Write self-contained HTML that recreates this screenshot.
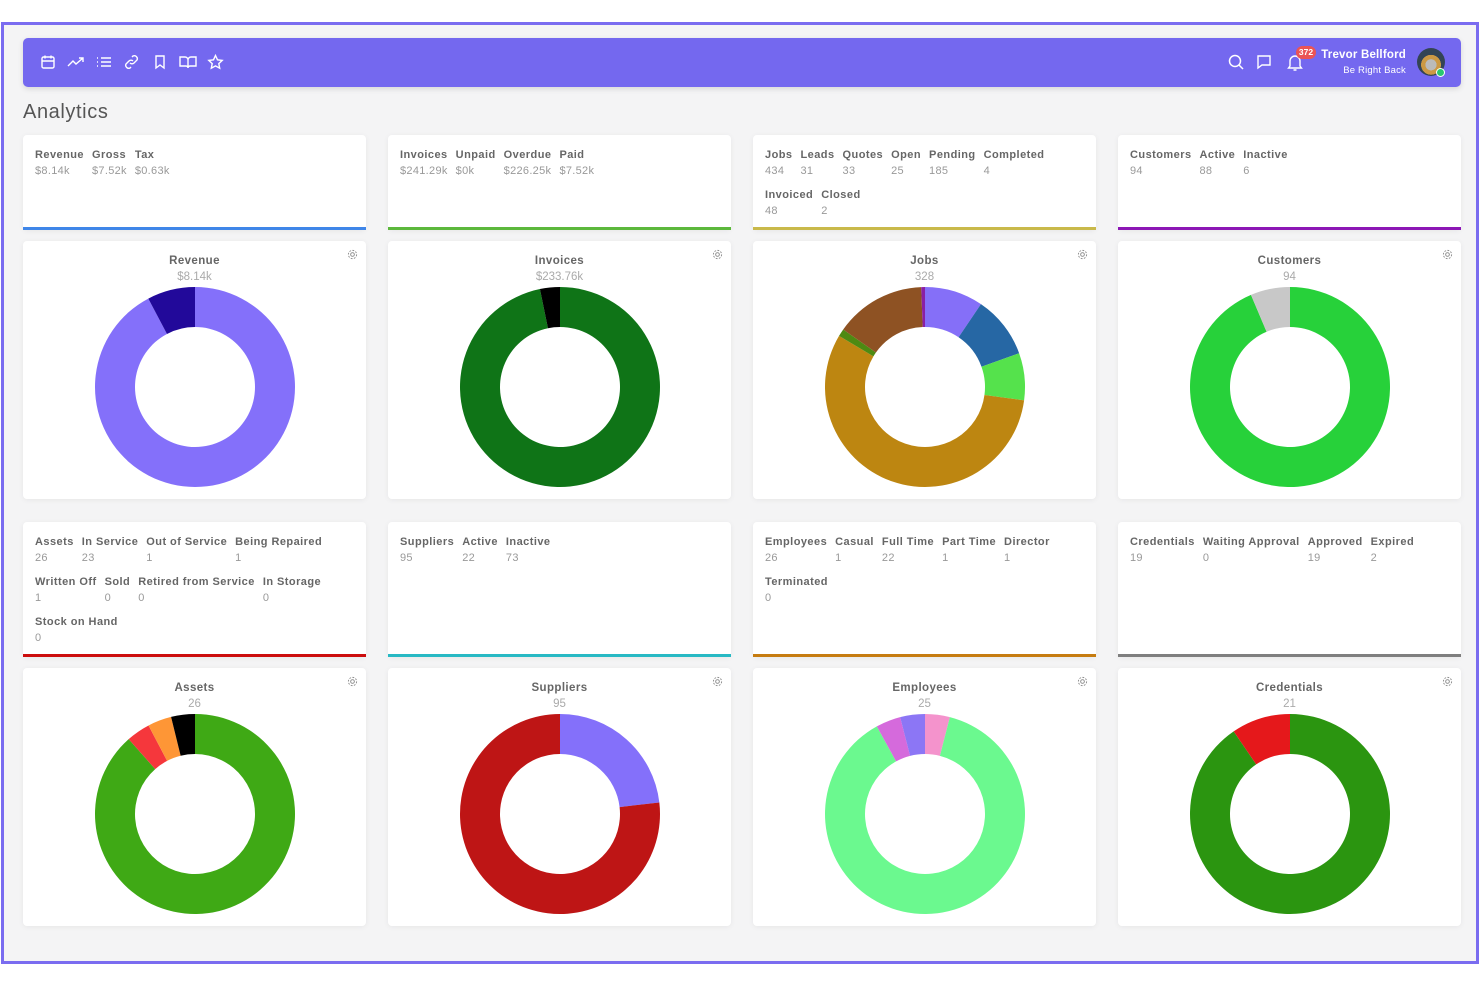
<!DOCTYPE html>
<html><head><meta charset="utf-8">
<style>
*{box-sizing:border-box;margin:0;padding:0}
body{width:1480px;height:987px;background:#fff;font-family:"Liberation Sans",sans-serif;position:relative;overflow:hidden}
#frame{position:absolute;left:1px;top:22px;width:1478px;height:942px;border:3px solid #7a6cf0;background:#f4f4f5}
#topbar{position:absolute;left:23px;top:38px;width:1438px;height:49px;background:#7468ef;border-radius:5px;box-shadow:0 2px 6px rgba(0,0,0,.12)}
.ico{position:absolute;top:16px}
h1{position:absolute;left:23px;top:101px;font-size:20px;font-weight:normal;color:#555;letter-spacing:.6px}
.card{position:absolute;background:#fff;border-radius:4px;box-shadow:0 1px 6px rgba(0,0,0,.06)}
.stat{padding:13px 11px 0 12px;display:flex;flex-wrap:wrap;align-content:flex-start;row-gap:6px}
.si{margin-right:8px;height:34px}
.si b{display:block;font-size:11px;color:#666;font-weight:bold;line-height:14px;letter-spacing:.45px}
.si span{display:block;font-size:11px;color:#999;line-height:18px;letter-spacing:.3px}
.bar{position:absolute;left:0;bottom:0;width:100%;height:3px}
.ct{position:absolute;top:14px;width:100%;text-align:center;font-size:11.5px;font-weight:bold;color:#666;letter-spacing:.4px}
.cv{position:absolute;top:30px;width:100%;text-align:center;font-size:11.5px;color:#aaa}
.gear{position:absolute;right:8px;top:8px}
svg.d{position:absolute;left:0;top:0}
</style></head><body>
<div id="frame"></div>
<div id="topbar">
<svg class="ico" style="left:17px" width="16" height="16" viewBox="0 0 16 16" fill="none" stroke="#fff" stroke-width="1.4"><rect x="2" y="3" width="12" height="11" rx="1.5"/><path d="M2 7h12M5 1.5v3M11 1.5v3"/></svg>
<svg class="ico" style="left:44px" width="18" height="16" viewBox="0 0 18 16" fill="none" stroke="#fff" stroke-width="1.4"><path d="M1 12l5-5 3 3 7-6M12 4h4v4"/></svg>
<svg class="ico" style="left:73px" width="16" height="16" viewBox="0 0 16 16" fill="none" stroke="#fff" stroke-width="1.4"><path d="M5 4h10M5 8h10M5 12h10M1 4h1M1 8h1M1 12h1"/></svg>
<svg class="ico" style="left:100px" width="17" height="16" viewBox="0 0 17 16" fill="none" stroke="#fff" stroke-width="1.4"><path d="M7 9a3 3 0 0 0 4 0l3-3a3 3 0 0 0-4-4l-1 1M10 7a3 3 0 0 0-4 0l-3 3a3 3 0 0 0 4 4l1-1"/></svg>
<svg class="ico" style="left:130px" width="14" height="16" viewBox="0 0 14 16" fill="none" stroke="#fff" stroke-width="1.4"><path d="M3 2h8v12l-4-3-4 3z"/></svg>
<svg class="ico" style="left:156px" width="18" height="16" viewBox="0 0 18 16" fill="none" stroke="#fff" stroke-width="1.4"><path d="M1 3h5a3 3 0 0 1 3 3v8a2 2 0 0 0-2-2H1zM17 3h-5a3 3 0 0 0-3 3v8a2 2 0 0 1 2-2h6z"/></svg>
<svg class="ico" style="left:184px" width="17" height="16" viewBox="0 0 17 16" fill="none" stroke="#fff" stroke-width="1.4"><path d="M8.5 1.5l2 4.3 4.7.6-3.4 3.2.9 4.6-4.2-2.3-4.2 2.3.9-4.6L1.8 6.4l4.7-.6z"/></svg>
<svg class="ico" style="left:1205px" width="16" height="16" viewBox="0 0 16 16" fill="none" stroke="#fff" stroke-width="1.5"><circle cx="7" cy="7" r="5.5"/><path d="M11 11l4 4"/></svg>
<svg class="ico" style="left:1233px" width="16" height="16" viewBox="0 0 16 16" fill="none" stroke="#fff" stroke-width="1.4"><path d="M2 2h12v9H6l-4 3z"/></svg>
<svg class="ico" style="left:1264px" width="16" height="18" viewBox="0 0 16 18" fill="none" stroke="#fff" stroke-width="1.4"><path d="M3 12V7a5 5 0 0 1 10 0v5l1.5 2h-13zM6.5 16h3"/></svg>
<div style="position:absolute;left:1273px;top:8px;width:20px;height:13px;border-radius:7px;background:#ea5455;color:#fff;font-size:8.5px;font-weight:bold;text-align:center;line-height:13px">372</div>
<div style="position:absolute;right:55px;top:11px;font-size:11.5px;font-weight:bold;color:#fff;letter-spacing:.2px">Trevor Bellford</div>
<div style="position:absolute;right:55px;top:27px;font-size:9.5px;color:#fff;letter-spacing:.2px">Be Right Back</div>
<div style="position:absolute;left:1394px;top:10px;width:28px;height:28px;border-radius:50%;background:radial-gradient(circle at 50% 60%,#bbb 0 25%,#c94 26% 45%,#345 46%)"></div>
<div style="position:absolute;left:1413px;top:30px;width:9px;height:9px;border-radius:50%;background:#28c76f;border:1.5px solid #fff"></div>
</div>
<h1>Analytics</h1>
<div id="root"></div>
<script>
const statTitles=[["Revenue","Gross","Tax"],["Invoices","Unpaid","Overdue","Paid"],["Jobs","Leads","Quotes","Open","Pending","Completed","Invoiced","Closed"],["Customers","Active","Inactive"],["Assets","In Service","Out of Service","Being Repaired","Written Off","Sold","Retired from Service","In Storage","Stock on Hand"],["Suppliers","Active","Inactive"],["Employees","Casual","Full Time","Part Time","Director","Terminated"],["Credentials","Waiting Approval","Approved","Expired"]];
const statValues=[["$8.14k","$7.52k","$0.63k"],["$241.29k","$0k","$226.25k","$7.52k"],["434","31","33","25","185","4","48","2"],["94","88","6"],["26","23","1","1","1","0","0","0","0"],["95","22","73"],["26","1","22","1","1","0"],["19","0","19","2"]];
const barColors=["#3f86e8","#5cb83c","#c9b94a","#8c17b5","#cc0d0d","#28b9c4","#c67c10","#7f7f7f"];
const chartTitles=["Revenue","Invoices","Jobs","Customers","Assets","Suppliers","Employees","Credentials"];
const chartTotals=["$8.14k","$233.76k","328","94","26","95","25","21"];
const revenueSeries=[7.52,0.63];
const invoiceSeries=[226.25,7.52];
const jobSeries=[31,33,25,185,4,48,2];
const customerSeries=[88,6];
const assetSeries=[23,1,1,1];
const supplierSeries=[22,73];
const employeeSeries=[1,22,1,1];
const credentialSeries=[19,2];
const allSeries=[revenueSeries,invoiceSeries,jobSeries,customerSeries,assetSeries,supplierSeries,employeeSeries,credentialSeries];
const sliceColors=[["#8470fa","#22099a"],["#0f7417","#000"],["#856ff8","#2667a4","#55e24c","#bd8611","#4d8a12","#8e5223","#8a1fa4"],["#27d13a","#c8c8c8"],["#3fa915","#f5373c","#fe9636","#000"],["#8470fa","#be1515"],["#f493cc","#6bf98f","#d56adc","#8c76f5"],["#2b9510","#e5181b"]];
const colX=[23,388,753,1118];
const root=document.getElementById('root');
const NS="http://www.w3.org/2000/svg";
function angleScale(v,tot){return v/tot*Math.PI*2;}
for(let i=0;i<8;i++){
  const r=Math.floor(i/4),c=i%4;
  const sTop=r?522:135,sH=r?135:95,cTop=r?668:241;
  const s=document.createElement('div');
  s.className='card stat';
  
  
  s.style.cssText=`left:${colX[c]}px;top:${sTop}px;width:343px;height:${sH}px`;
  statTitles[i].forEach((t,k)=>{
    const d=document.createElement('div');d.className='si';
    
    
    d.innerHTML=`<b>${t}</b><span>${statValues[i][k]}</span>`;s.appendChild(d);
  });
  const b=document.createElement('div');b.className='bar';b.style.background=barColors[i];
  
  
  s.appendChild(b);root.appendChild(s);
  const k=document.createElement('div');k.className='card';
  
  
  k.style.cssText=`left:${colX[c]}px;top:${cTop}px;width:343px;height:258px`;
  k.innerHTML=`<div class="ct">${chartTitles[i]}</div><div class="cv">${chartTotals[i]}</div><svg class="gear" width="11" height="11" viewBox="0 0 12 12" fill="none" stroke="#888" stroke-width="1"><circle cx="6" cy="6" r="2"/><circle cx="6" cy="6" r="4.5" stroke-dasharray="2 1.5"/></svg>`;
  const svg=document.createElementNS(NS,'svg');
  svg.setAttribute('class','d');svg.setAttribute('width','343');svg.setAttribute('height','258');
  
  
  const data=allSeries[i],tot=data.reduce((a,b)=>a+b,0);
  const cx=172,cy=146,R=100,r0=60;let a=0;
  data.forEach((v,j)=>{
    const a1=a+angleScale(v,tot);
    const p=(ang,rr)=>[cx+rr*Math.sin(ang),cy-rr*Math.cos(ang)];
    const [x1,y1]=p(a,R),[x2,y2]=p(a1,R),[x3,y3]=p(a1,r0),[x4,y4]=p(a,r0);
    const lg=(a1-a)>Math.PI?1:0;
    const path=document.createElementNS(NS,'path');
    path.setAttribute('d',`M${x1} ${y1}A${R} ${R} 0 ${lg} 1 ${x2} ${y2}L${x3} ${y3}A${r0} ${r0} 0 ${lg} 0 ${x4} ${y4}Z`);
    path.setAttribute('fill',sliceColors[i][j]);
    
    
    svg.appendChild(path);a=a1;
  });
  k.appendChild(svg);root.appendChild(k);
}
</script>
</body></html>
